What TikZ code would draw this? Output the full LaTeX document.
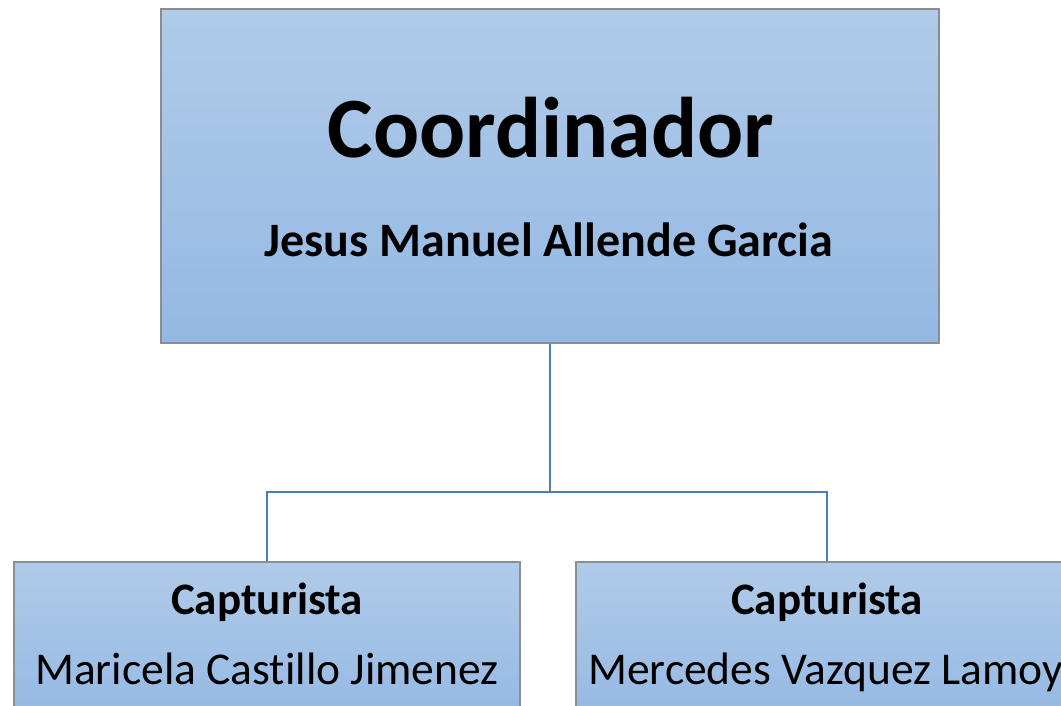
\documentclass[tikz,border=0pt]{standalone}
\usepackage{fontspec}
\setmainfont[Ligatures=NoCommon]{Carlito}
\definecolor{boxtop}{HTML}{B1CBE9}
\definecolor{boxbot}{HTML}{94B8E3}
\definecolor{boxedge}{HTML}{8A8D91}
\definecolor{linkc}{HTML}{4A7EBB}
\begin{document}
\begin{tikzpicture}[x=1pt,y=-1pt,
  orgbox/.style={draw=boxedge,line width=1.5pt,top color=boxtop,bottom color=boxbot,rectangle,inner sep=0pt},
  link/.style={draw=linkc,line width=2pt},
  txt/.style={inner sep=0pt,anchor=base}]
\useasboundingbox (0,0) rectangle (1061,705);
\clip (0,0) rectangle (1061,705);
\node[orgbox,minimum width=778pt,minimum height=334pt] (top) at (550,176) {};
\node[orgbox,minimum width=506pt,minimum height=160pt] (left) at (267,642) {};
\node[orgbox,minimum width=502pt,minimum height=160pt] (right) at (827,642) {};
\node[txt] (t1) at (551,157) {\fontsize{86}{90}\selectfont\bfseries Coordinador};
\node[txt] (t2) at (549,256) {\fontsize{48}{52}\selectfont\bfseries Jesus Manuel Allende Garcia};
\node[txt] (l1) at (267,614) {\fontsize{45}{49}\selectfont\bfseries Capturista};
\node[txt] (l2) at (267,684) {\fontsize{45.5}{49}\selectfont Maricela Castillo Jimenez};
\node[txt] (r1) at (827,614) {\fontsize{45}{49}\selectfont\bfseries Capturista};
\node[txt,anchor=base west] (r2) at (588,684) {\fontsize{45.5}{49}\selectfont Mercedes Vazquez Lamoy};
\coordinate (mid) at (top.south |- 0,492);
\draw[link] (top.south) -- (mid);
\draw[link] (left.north) |- (mid) -| (right.north);
\end{tikzpicture}
\end{document}
